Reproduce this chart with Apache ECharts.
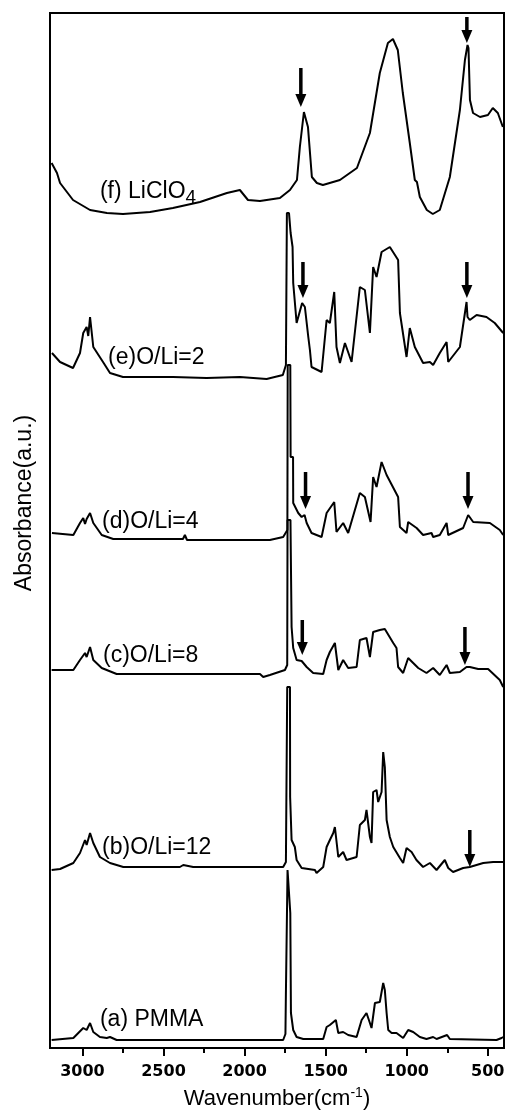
<!DOCTYPE html>
<html>
<head>
<meta charset="utf-8">
<style>
  html, body { margin: 0; padding: 0; background: #fff; }
  #chart { width: 505px; height: 1114px; }
</style>
<script src="https://cdn.jsdelivr.net/npm/echarts@6/dist/echarts.min.js"></script>
</head>
<body>
<div id="chart"></div>
<script>
// axis ticks (cm-1)
const majorTicks = [500, 1000, 1500, 2000, 2500, 3000]
const minorTicks = [750, 1250, 1750, 2250, 2750]

// spectra: [wavenumber, absorbance (offset, a.u.)]
const specA = [[3190,8],[3056,10],[2995,20],[2974,18],[2953,25],[2933,16],[2892,11],[2850,10],[2830,11],[2789,8],[1762,8],[1748,14],[1745,56],[1738,58],[1735,178],[1724,178],[1718,135],[1714,35],[1700,18],[1679,11],[1638,9],[1515,9],[1494,21],[1474,23],[1437,28],[1422,15],[1392,16],[1361,13],[1309,11],[1278,28],[1248,35],[1227,25],[1217,20],[1196,45],[1166,46],[1145,65],[1135,58],[1124,35],[1114,18],[1093,15],[1063,15],[1022,10],[991,18],[960,16],[919,11],[878,9],[837,11],[816,9],[751,13],[734,9],[446,8],[415,10],[405,11]]
const specB = [[3190,178],[3138,179],[3056,185],[3015,195],[2984,208],[2974,203],[2953,215],[2933,205],[2892,191],[2830,185],[2748,181],[2399,181],[2378,183],[2317,181],[1926,181],[1762,181],[1745,186],[1737,361],[1720,361],[1719,251],[1711,251],[1710,208],[1690,201],[1679,188],[1648,180],[1566,178],[1556,175],[1515,181],[1494,201],[1474,208],[1453,215],[1443,221],[1422,191],[1392,196],[1371,188],[1309,191],[1289,223],[1258,228],[1248,238],[1227,211],[1217,205],[1207,256],[1186,258],[1176,246],[1155,256],[1145,296],[1135,281],[1124,228],[1104,211],[1083,201],[1042,190],[1022,185],[1001,200],[970,196],[940,188],[899,181],[857,185],[816,178],[765,188],[744,180],[714,176],[652,180],[611,181],[528,185],[467,186],[405,186]]
const specC = [[3190,378],[3056,378],[3015,388],[2984,395],[2974,391],[2953,401],[2933,388],[2881,380],[2789,374],[1905,374],[1885,371],[1844,373],[1751,378],[1737,383],[1735,528],[1717,528],[1710,421],[1700,400],[1679,388],[1648,387],[1617,381],[1577,375],[1515,374],[1494,388],[1474,396],[1443,405],[1422,378],[1392,388],[1361,380],[1309,381],[1289,408],[1248,410],[1227,391],[1207,416],[1166,418],[1135,419],[1083,405],[1063,400],[1053,381],[1022,375],[991,390],[960,385],[929,380],[878,375],[837,380],[796,373],[754,383],[734,375],[672,376],[631,381],[611,381],[559,379],[498,379],[426,368],[405,361]]
const specD = [[3188,515],[3056,513],[3015,525],[2995,530],[2984,524],[2974,529],[2953,535],[2933,525],[2881,513],[2810,509],[2380,509],[2368,513],[2355,508],[2090,508],[1967,508],[1844,508],[1762,511],[1736,518],[1734,683],[1718,683],[1716,591],[1701,591],[1700,545],[1690,545],[1669,535],[1648,531],[1630,533],[1617,525],[1587,515],[1525,511],[1494,535],[1447,546],[1433,516],[1392,525],[1361,515],[1289,555],[1258,551],[1223,526],[1207,571],[1186,561],[1155,586],[1124,573],[1053,551],[1042,521],[1001,515],[991,526],[939,520],[899,513],[847,515],[837,511],[796,513],[754,525],[744,513],[652,520],[621,533],[590,526],[487,525],[426,518],[405,513]]
const specE = [[3188,695],[3138,686],[3058,680],[3015,695],[2995,715],[2974,721],[2964,712],[2953,731],[2933,701],[2873,686],[2830,675],[2750,671],[2442,671],[2234,670],[2029,671],[1864,669],[1764,673],[1745,683],[1739,835],[1726,835],[1716,815],[1704,801],[1700,765],[1679,725],[1645,745],[1628,741],[1607,711],[1597,698],[1587,681],[1525,676],[1494,728],[1474,725],[1447,756],[1433,701],[1412,685],[1381,705],[1340,686],[1289,761],[1258,758],[1227,715],[1207,781],[1186,771],[1155,796],[1104,801],[1053,788],[1042,735],[1001,691],[981,720],[950,701],[899,685],[857,686],[837,683],[796,695],[754,706],[744,686],[672,701],[631,746],[625,731],[611,728],[569,733],[508,731],[457,725],[405,715]]
const specF = [[3190,885],[3157,875],[3138,865],[3058,848],[2953,838],[2849,835],[2750,834],[2583,836],[2442,840],[2275,846],[2109,855],[2029,858],[1979,848],[1905,847],[1782,850],[1720,858],[1677,868],[1659,901],[1634,936],[1609,921],[1585,871],[1554,865],[1517,863],[1412,868],[1307,880],[1227,915],[1166,975],[1116,1005],[1085,1009],[1055,998],[1024,955],[981,905],[950,868],[944,870],[937,866],[919,851],[876,838],[839,834],[796,838],[734,871],[672,938],[641,988],[625,1003],[619,1000],[610,948],[591,935],[548,931],[499,933],[469,940],[438,935],[407,921]]

// curve labels, anchored at their left edge
const labelTexts = ['(f) LiClO{s|4}', '(e)O/Li=2', '(d)O/Li=4', '(c)O/Li=8', '(b)O/Li=12', '(a) PMMA']
const labelPos = [[2892, 856], [2842, 690], [2879, 526], [2873, 392], [2879, 200], [2892, 28]]

// arrows: [wavenumber, tail, tip]
const arrows = [
  [1653, 980, 941], [629, 1031, 1005],
  [1640, 786, 750], [629, 786, 750],
  [1624, 576, 539], [622, 576, 539],
  [1644, 428, 393], [641, 421, 383],
  [611, 218, 181]
]

const FONT = 'Liberation Sans, Arial, sans-serif'

function spectrum(name, data) {
  return {
    name, type: 'line', data,
    showSymbol: false, symbol: 'none',
    lineStyle: { color: '#000', width: 2 },
    silent: true
  }
}

const chart = echarts.init(document.getElementById('chart'))
chart.setOption({
  animation: false,
  backgroundColor: '#fff',
  grid: {
    left: 50, right: 1, top: 13, bottom: 66,
    containLabel: false, outerBoundsMode: 'none',
    show: true, borderColor: '#000', borderWidth: 2
  },
  xAxis: [{
    type: 'value', min: 400, max: 3200, inverse: true,
    axisLine: { show: false }, splitLine: { show: false },
    axisTick: { length: 8, customValues: majorTicks, lineStyle: { color: '#000', width: 2 } },
    axisLabel: {
      customValues: majorTicks, margin: 16, formatter: v => String(v),
      color: '#000', fontFamily: 'DejaVu Sans', fontWeight: 'bold', fontSize: 16
    },
    name: '{n|Wavenumber(cm}{s|-1}{n|)}',
    nameLocation: 'middle', nameGap: 38,
    nameTextStyle: {
      color: '#000', fontFamily: FONT, fontSize: 22,
      rich: {
        n: { color: '#000', fontFamily: FONT, fontSize: 22 },
        s: { color: '#000', fontFamily: FONT, fontSize: 14, padding: [0, 0, 11, 0] }
      }
    }
  }, {
    type: 'value', min: 400, max: 3200, inverse: true, position: 'bottom',
    axisLine: { show: false }, splitLine: { show: false }, axisLabel: { show: false },
    axisTick: { length: 5, customValues: minorTicks, lineStyle: { color: '#000', width: 2 } }
  }],
  yAxis: { type: 'value', min: 0, max: 1035, show: false },
  graphic: [{
    type: 'text', x: 25, y: 503, rotation: Math.PI / 2,
    style: { text: 'Absorbance(a.u.)', font: '23px ' + FONT, fill: '#000', align: 'center', verticalAlign: 'middle' }
  }],
  series: [
    spectrum('PMMA', specA),
    spectrum('O/Li=12', specB),
    spectrum('O/Li=8', specC),
    spectrum('O/Li=4', specD),
    spectrum('O/Li=2', specE),
    spectrum('LiClO4', specF),
    {
      type: 'custom', silent: true,
      data: arrows,
      renderItem(params, api) {
        const tail = api.coord([api.value(0), api.value(1)])
        const tip = api.coord([api.value(0), api.value(2)])
        const headH = 13, headW = 11
        return {
          type: 'group',
          children: [
            { type: 'line', shape: { x1: tail[0], y1: tail[1], x2: tip[0], y2: tip[1] - headH + 1 }, style: { stroke: '#000', lineWidth: 3.5 } },
            { type: 'polygon', shape: { points: [[tip[0] - headW / 2, tip[1] - headH], [tip[0] + headW / 2, tip[1] - headH], [tip[0], tip[1]]] }, style: { fill: '#000' } }
          ]
        }
      }
    },
    {
      type: 'scatter', silent: true,
      symbolSize: 0, itemStyle: { color: 'rgba(0,0,0,0)' },
      data: labelPos.map((p, i) => ({ value: p, name: labelTexts[i] })),
      label: {
        show: true, position: 'right', distance: 0, opacity: 1,
        formatter: p => p.name,
        color: '#000', fontFamily: FONT, fontSize: 23,
        rich: { s: { color: '#000', fontFamily: FONT, fontSize: 19, padding: [12, 0, 0, 0] } }
      }
    }
  ]
})
</script>
</body>
</html>
